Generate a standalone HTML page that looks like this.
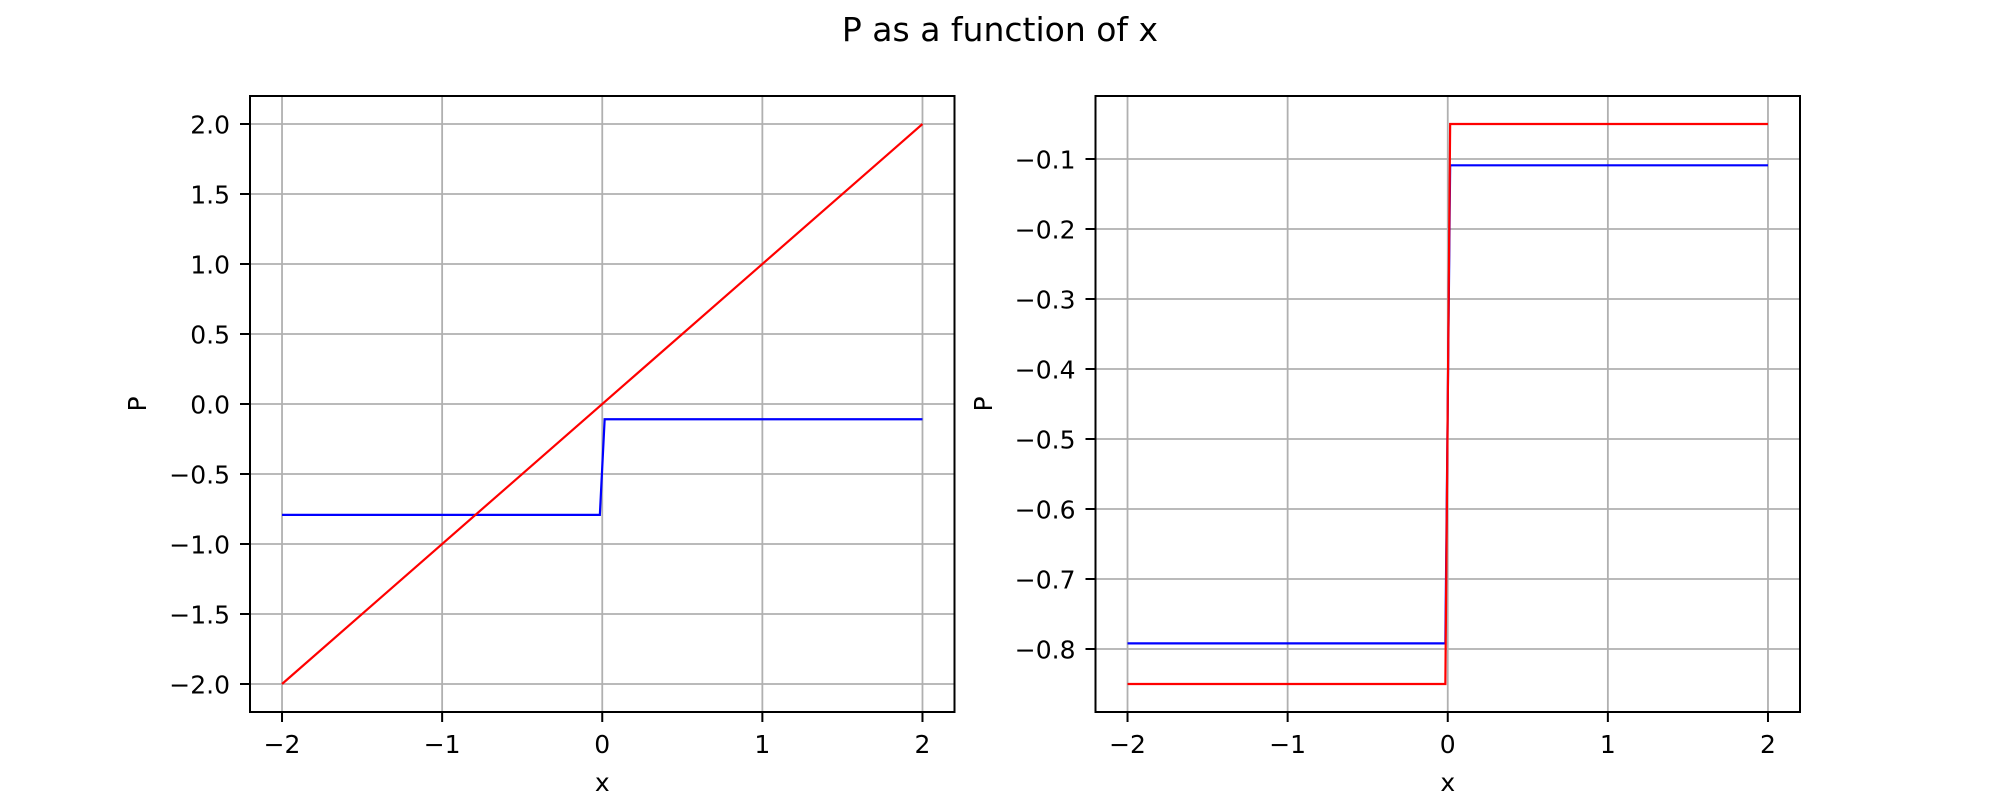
<!DOCTYPE html>
<html><head><meta charset="utf-8"><style>
html,body{margin:0;padding:0;background:#fff;}
svg{display:block;font-family:"DejaVu Sans","Liberation Sans",sans-serif;}
</style></head><body>
<svg id="fig" width="2000" height="800" xmlns="http://www.w3.org/2000/svg">
<rect width="2000" height="800" fill="#fff"/>
<text x="1000" y="41" font-size="33" text-anchor="middle">P as a function of x</text>
</svg>
<script>
const leftRedX=[-2,2];
const leftRedY=[-2,2];
const leftBlueX=[-2,-0.015,0.015,2];
const leftBlueY=[-0.792,-0.792,-0.109,-0.109];
const rightRedX=[-2,-0.015,0.015,2];
const rightRedY=[-0.85,-0.85,-0.05,-0.05];
const rightBlueX=[-2,-0.015,0.015,2];
const rightBlueY=[-0.792,-0.792,-0.109,-0.109];
const xTicks=[-2,-1,0,1,2];
const leftYTicks=[-2.0,-1.5,-1.0,-0.5,0.0,0.5,1.0,1.5,2.0];
const rightYTicks=[-0.8,-0.7,-0.6,-0.5,-0.4,-0.3,-0.2,-0.1];

const NS="http://www.w3.org/2000/svg";
const svg=document.getElementById('fig');
function mk(tag,attrs,parent){const e=document.createElementNS(NS,tag);for(const k in attrs)e.setAttribute(k,attrs[k]);(parent||svg).appendChild(e);return e;}
function fmt(v,d){let s=v.toFixed(d);if(v<0)s='\u2212'+Math.abs(v).toFixed(d);return s;}

function panel(name,L,R,xmin,xmax,ymin,ymax,yt,yd,ylx,series){
  const T=96,B=712;
  const sx=v=>L+(v-xmin)/(xmax-xmin)*(R-L);
  const sy=v=>B-(v-ymin)/(ymax-ymin)*(B-T);
  const g=mk('g',{});
  
  
  xTicks.forEach(t=>{
    const l=mk('line',{x1:sx(t),x2:sx(t),y1:T,y2:B,stroke:'#b0b0b0','stroke-width':1.8},g);
    
    
    mk('line',{x1:sx(t),x2:sx(t),y1:B,y2:B+10,stroke:'#000','stroke-width':2},g);
    const tx=mk('text',{x:sx(t),y:B+41,'font-size':25,'text-anchor':'middle'},g);
    tx.textContent=fmt(t,0);
    
    
  });
  yt.forEach(t=>{
    const l=mk('line',{x1:L,x2:R,y1:sy(t),y2:sy(t),stroke:'#b0b0b0','stroke-width':1.8},g);
    
    
    mk('line',{x1:L-10,x2:L,y1:sy(t),y2:sy(t),stroke:'#000','stroke-width':2},g);
    const tx=mk('text',{x:L-20,y:sy(t)+9.5,'font-size':25,'text-anchor':'end'},g);
    tx.textContent=fmt(t,yd);
    
    
  });
  series.forEach(s=>{
    const pts=s.x.map((v,i)=>sx(v).toFixed(2)+','+sy(s.y[i]).toFixed(2)).join(' ');
    const p=mk('polyline',{points:pts,fill:'none',stroke:s.c,'stroke-width':2.2,'stroke-linejoin':'miter'},g);
    
    
  });
  const fr=mk('rect',{x:L,y:T,width:R-L,height:B-T,fill:'none',stroke:'#000','stroke-width':2},g);
  
  
  const xl=mk('text',{x:(L+R)/2,y:791,'font-size':25,'text-anchor':'middle'},g);
  xl.textContent='x';
  
  
  const ym=(T+B)/2;
  const yl=mk('text',{x:ylx,y:ym,'font-size':25,'text-anchor':'middle',transform:`rotate(-90 ${ylx} ${ym})`},g);
  yl.textContent='P';
  
  
}
panel('left-panel',250,954.5,-2.2,2.2,-2.2,2.2,leftYTicks,1,146,[
  {x:leftBlueX,y:leftBlueY,c:'#0000ff',n:'left-blue-series'},
  {x:leftRedX,y:leftRedY,c:'#ff0000',n:'left-red-series'}]);
panel('right-panel',1095.5,1800,-2.2,2.2,-0.89,-0.01,rightYTicks,1,992,[
  {x:rightBlueX,y:rightBlueY,c:'#0000ff',n:'right-blue-series'},
  {x:rightRedX,y:rightRedY,c:'#ff0000',n:'right-red-series'}]);
</script>
</body></html>
